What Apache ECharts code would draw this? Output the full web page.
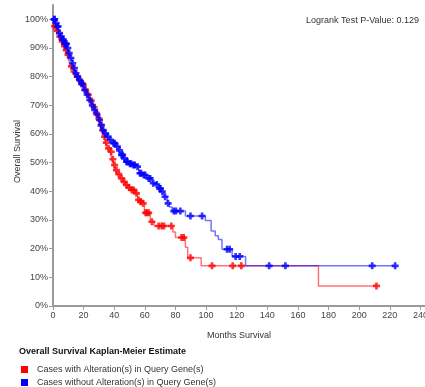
<!DOCTYPE html>
<html>
<head>
<meta charset="utf-8">
<script src="https://cdn.jsdelivr.net/npm/echarts@6/dist/echarts.min.js"></script>
<style>html,body{margin:0;padding:0;background:#fff}#c{width:425px;height:387px}</style>
</head>
<body>
<div id="c"></div>
<script>
const seriesNames = ['Cases with Alteration(s) in Query Gene(s)', 'Cases without Alteration(s) in Query Gene(s)'];
const xTicks = [0, 20, 40, 60, 80, 100, 120, 140, 160, 180, 200, 220, 240];
const yTicks = [0, 10, 20, 30, 40, 50, 60, 70, 80, 90, 100];
const pValueText = 'Logrank Test P-Value: 0.129';

// Altered group: KM step points [months, survival %]
const redSteps = [[0,100],[0.3,97.6],[2,96],[3.7,94],[5,92.3],[6.9,90.6],[8,89.2],[9.2,87.7],[10.3,85.6],[11.3,83.6],[13,81.8],[14.6,80.1],[17,78.5],[19,77.1],[20.5,75.4],[22.2,73.7],[24,71.6],[26,69.4],[27.6,67.3],[29,65.4],[30.9,63.2],[32,61.2],[33.1,59.1],[34.2,57],[35.3,55],[37.4,53.8],[38.6,51.2],[39.6,49.2],[40.7,47.4],[42,46],[44,44.5],[45.5,43.3],[47.3,42.2],[49,41.3],[50.5,40.5],[53.8,39.3],[55.3,37],[56.5,36.4],[58.2,35.8],[59.7,32.5],[63.6,29.4],[66,27.9],[78.3,25.8],[80,23.9],[86.5,20.5],[88,16.8],[96.8,14],[173.4,7],[212,7]];
// Altered group: censored cases [months, survival %]
const redCensored = [[1,97.6],[2.7,96],[4.4,94],[6,92.3],[7.5,90.6],[8.6,89.2],[9.8,87.7],[12,83.6],[13.7,81.8],[15.8,80.1],[18,78.5],[19.8,77.1],[21.3,75.4],[23,73.7],[25,71.6],[26.8,69.4],[28.3,67.3],[30,65.4],[31.5,63.2],[32.6,61.2],[33.7,59.1],[34.8,57],[36.3,55],[38,53.8],[39.1,51.2],[40.2,49.2],[41.4,47.4],[43,46],[44.8,44.5],[46.5,43.3],[48,42.2],[49.7,41.3],[51.5,40.5],[52.7,40.5],[54.5,39.3],[55.9,37],[57.3,36.4],[58.9,35.8],[60.5,32.5],[61.4,32.5],[62.5,32.5],[64.6,29.4],[69,27.9],[71,27.9],[72.5,27.9],[77.3,27.9],[84,23.9],[85.4,23.9],[89.8,16.8],[103.9,14],[117.4,14],[123,14],[211.3,7]];

// Unaltered group: KM step points [months, survival %]
const blueSteps = [[0,100],[1.5,98.7],[2.5,97.5],[3.7,95.2],[5,94],[5.9,92.9],[7,91.5],[9.2,90],[10.2,88.2],[11,86.5],[12.4,84.7],[13.5,83],[14.6,81.2],[15.5,80],[16.7,78.9],[18,77.5],[20,75.4],[21.5,73.8],[23.3,71.9],[25,70],[26.5,68.4],[28,66.8],[29.8,64.9],[31,63],[32,61.4],[33.5,60.2],[35.3,59.1],[36.5,58],[38.6,56.8],[41,55.6],[43,54.3],[44,52.7],[46.1,51.5],[47.3,50.3],[49.4,49.6],[51.6,49.2],[54.4,48.6],[56,46.3],[58.2,45.7],[61.4,44.5],[64.7,42.8],[66.9,42.4],[69,41],[70.6,39.9],[72.3,38.1],[74.5,35.8],[76,34.5],[77.8,33.1],[86.5,31.4],[99.5,29.8],[103.3,26.2],[106,24.5],[108,23.2],[110.4,19.8],[117,17.3],[125.8,14],[224,14]];
// Unaltered group: censored cases [months, survival %]
const blueCensored = [[0.7,100],[1.1,100],[2,98.7],[3,97.5],[3.3,97.5],[4.3,95.2],[5.4,94],[6.3,92.9],[6.7,92.9],[7.6,91.5],[8.2,91.5],[8.8,91.5],[9.7,90],[10.6,88.2],[11.7,86.5],[12.9,84.7],[14,83],[15,81.2],[16.1,80],[17.3,78.9],[18.6,77.5],[19.3,77.5],[20.7,75.4],[22.3,73.8],[24,71.9],[25.7,70],[27.2,68.4],[28.8,66.8],[30.4,64.9],[31.5,63],[32.7,61.4],[34.2,60.2],[35.9,59.1],[37.5,58],[39.5,56.8],[40.3,56.8],[42,55.6],[43.5,54.3],[44.8,52.7],[45.5,52.7],[46.7,51.5],[48,50.3],[48.7,50.3],[50.3,49.6],[51,49.6],[52.5,49.2],[53.4,49.2],[55.2,48.6],[56.8,46.3],[57.5,46.3],[59.2,45.7],[60.2,45.7],[62.5,44.5],[63.5,44.5],[65.5,42.8],[67.8,42.4],[69.6,41],[70.2,41],[71.4,39.9],[73.2,38.1],[75.2,35.8],[78.9,33.1],[80.3,33.1],[83.2,33.1],[89.8,31.4],[97.4,31.4],[113.7,19.8],[115.4,19.8],[119.3,17.3],[122,17.3],[141.2,14],[151.8,14],[208.5,14],[223.5,14]];

const plusPath = 'path://M2.5,0h3v2.5h2.5v3h-2.5v2.5h-3v-2.5h-2.5v-3h2.5z';
const chart = echarts.init(document.getElementById('c'), null, {renderer: 'canvas'});
const font = '"Liberation Sans", Arial, sans-serif';
chart.setOption({
  animation: false,
  textStyle: {fontFamily: font},
  title: [
    {text: pValueText, right: 1, top: 11, textStyle: {fontSize: 9, fontWeight: 'normal', color: '#333', fontFamily: font}},
    {text: 'Overall Survival Kaplan-Meier Estimate', left: 14, top: 342, textStyle: {fontSize: 9, fontWeight: 'bold', color: '#111', fontFamily: font}}
  ],
  legend: {
    data: seriesNames,
    orient: 'vertical', left: 16, top: 360, height: 60,
    icon: 'rect', itemWidth: 7, itemHeight: 7, itemGap: 4,
    textStyle: {fontSize: 9, color: '#333', padding: [0, 0, 0, 4], fontFamily: font}
  },
  grid: {left: 53, right: 0, top: 5, bottom: 81, containLabel: false, outerBoundsMode: 'none'},
  xAxis: {
    type: 'value', min: 0, max: 243,
    name: 'Months Survival', nameLocation: 'middle', nameGap: 25, nameMoveOverlap: false,
    nameTextStyle: {fontSize: 9, color: '#333', fontFamily: font},
    axisLine: {lineStyle: {color: '#9a9a9a', width: 2}},
    axisTick: {show: true, length: 4, lineStyle: {color: '#9a9a9a'}, customValues: xTicks},
    axisLabel: {fontSize: 9, color: '#444', margin: 5, customValues: xTicks},
    splitLine: {show: false}
  },
  yAxis: {
    type: 'value', min: 0, max: 105,
    name: 'Overall Survival', nameLocation: 'middle', nameGap: 31, nameMoveOverlap: false,
    nameTextStyle: {fontSize: 9, color: '#333', padding: [0, 0, 0, 8], fontFamily: font},
    axisLine: {show: true, lineStyle: {color: '#9a9a9a', width: 2}},
    axisTick: {show: true, length: 4, lineStyle: {color: '#9a9a9a'}, customValues: yTicks},
    axisLabel: {fontSize: 9, color: '#444', margin: 5, formatter: v => v + '%', customValues: yTicks},
    splitLine: {show: false}
  },
  series: [
    {name: seriesNames[0], type: 'line', step: 'end', data: redSteps, showSymbol: false,
     itemStyle: {color: '#ff0000'}, lineStyle: {color: 'rgba(255,0,0,0.55)', width: 1.5}, z: 2},
    {name: seriesNames[0], type: 'scatter', data: redCensored, symbol: plusPath, symbolSize: 7,
     itemStyle: {color: '#ff0000'}, z: 3},
    {name: seriesNames[1], type: 'line', step: 'end', data: blueSteps, showSymbol: false,
     itemStyle: {color: '#0000ff'}, lineStyle: {color: 'rgba(0,0,255,0.55)', width: 1.5}, z: 4},
    {name: seriesNames[1], type: 'scatter', data: blueCensored, symbol: plusPath, symbolSize: 7,
     itemStyle: {color: '#0000ff'}, z: 5}
  ]
});
</script>
</body>
</html>
